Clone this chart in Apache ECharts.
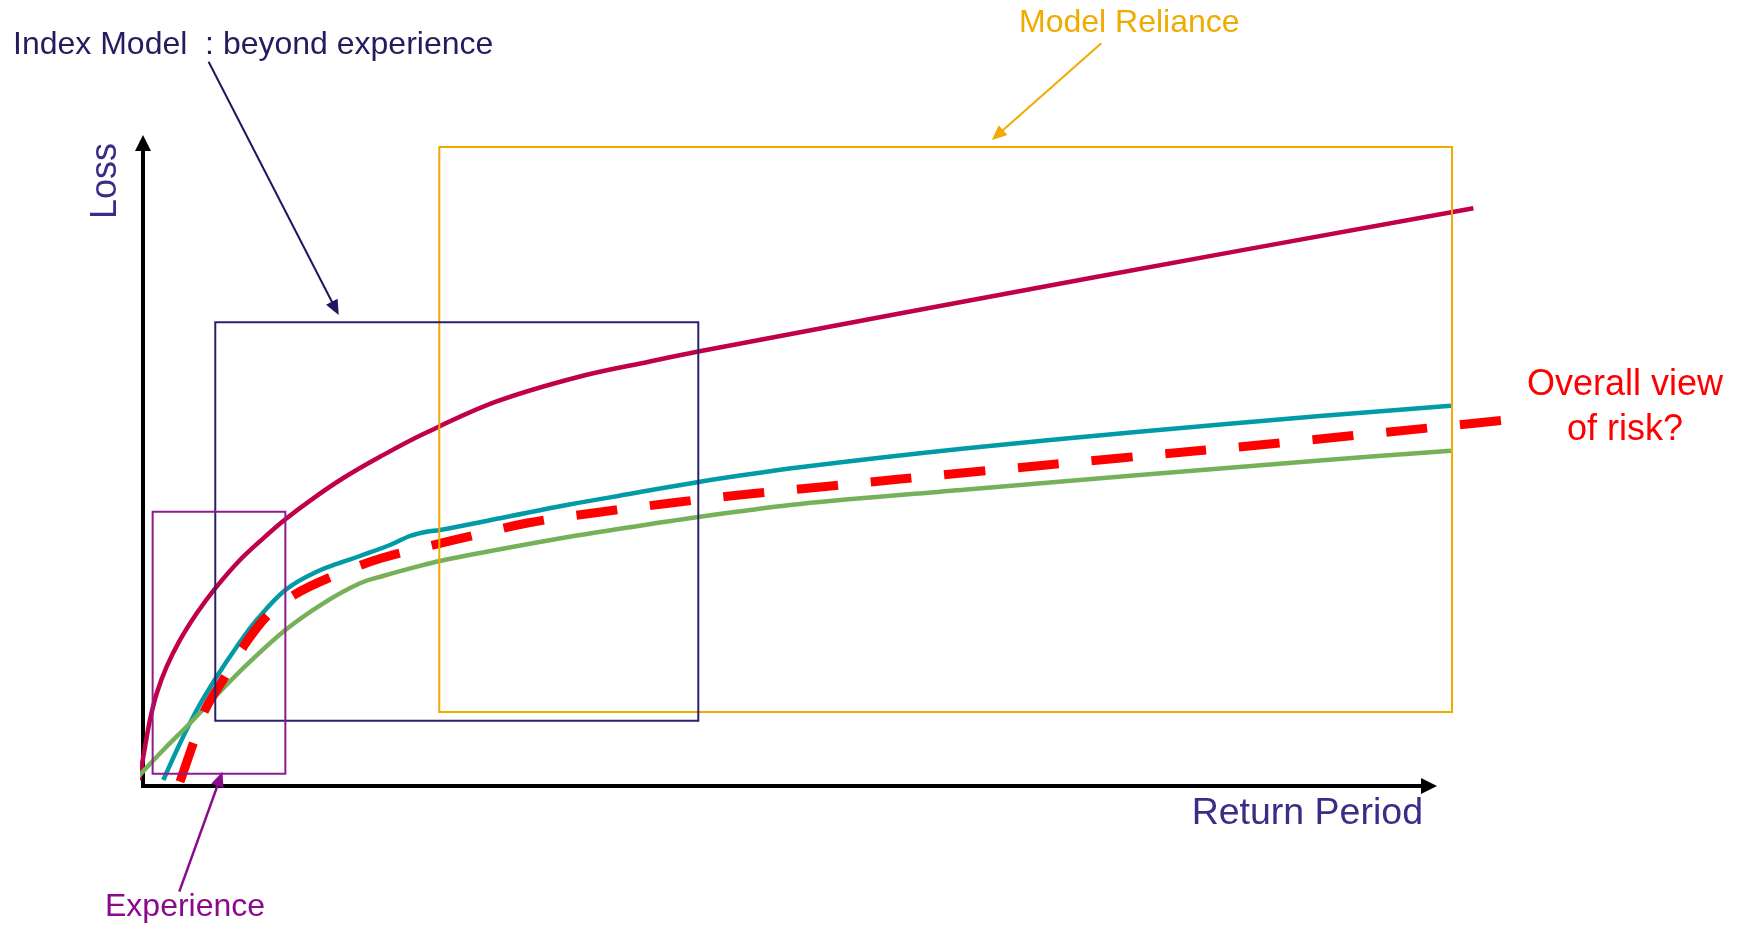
<!DOCTYPE html>
<html>
<head>
<meta charset="utf-8">
<script src="https://cdn.jsdelivr.net/npm/echarts@6/dist/echarts.min.js"></script>
<style>
  html, body { margin: 0; padding: 0; background: #ffffff; }
  #chart { width: 1737px; height: 926px; }
</style>
</head>
<body>
<div id="chart"></div>
<script>
// Loss against return period, both on a relative scale where the drawn
// axes run from 0 to 100. Each curve is a list of [returnPeriod, loss] pairs.
const upperCurve = [
  [-0.29, 0.93], [0.16, 6.11], [0.54, 10.26], [1.07, 14.42], [1.84, 18.55],
  [2.88, 22.71], [4.18, 26.86], [5.6, 30.7], [7.54, 35.15], [9.35, 38.52],
  [11.07, 41.48], [13.24, 44.74], [15.58, 47.9], [18.43, 51.2], [21.8, 54.74],
  [27.5, 59.8], [33.98, 63.69], [39.42, 66.02], [43.18, 67.57], [73.25, 78.85],
  [103.45, 89.86]
];
const middleCurve = [
  [1.58, 0.93], [2.88, 6.64], [4.18, 11.82], [5.73, 17.0], [7.29, 21.66],
  [8.84, 25.82], [11.07, 30.48], [13.51, 33.33], [16.87, 35.77], [19.21, 37.48],
  [20.76, 38.88], [22.06, 39.55], [23.09, 39.81], [27.76, 41.63], [32.95, 43.7],
  [38.13, 45.52], [43.31, 47.33], [51.09, 49.56], [64.05, 52.52], [77.01, 55.01],
  [91.52, 57.54], [101.71, 59.14]
];
const lowerCurve = [
  [-0.62, 0.93], [1.58, 5.6], [3.65, 9.75], [5.73, 14.15], [8.32, 19.33],
  [11.07, 24.26], [14.02, 28.41], [16.87, 31.52], [18.66, 32.66], [21.31, 34.11],
  [23.09, 34.99], [27.76, 36.81], [32.95, 38.68], [38.13, 40.33], [43.31, 41.88],
  [51.09, 43.86], [64.05, 46.11], [77.01, 48.29], [91.52, 50.62], [101.71, 52.15]
];
const overallView = [
  [2.88, 0.67], [3.91, 6.64], [4.82, 11.82], [6.38, 17.0], [7.8, 21.66],
  [9.62, 26.4], [11.82, 29.8], [14.67, 32.55], [18.58, 35.46], [24.22, 38.26],
  [29.9, 40.9], [35.61, 42.61], [41.37, 44.09], [47.12, 45.41], [52.9, 46.55],
  [64.49, 48.83], [76.03, 51.01], [87.58, 53.19], [106.56, 57.03]
];

// Ranges covered by each source of information: [x0, x1] and [y0, y1]
const experienceRange = { x: [0.75, 11.07], y: [1.9, 42.66] };
const indexModelRange = { x: [5.62, 43.18], y: [10.16, 72.12] };
const modelRelianceRange = { x: [23.04, 101.79], y: [11.51, 99.38] };

// Drawn axes end at 100; the curves run a little past the arrow heads,
// so they sit on a second, hidden grid with the same scale but a wider span.
const AXIS_MAX = 100;
const DATA_MAX = 108;

const FONT = '"Liberation Sans", Arial, Helvetica, sans-serif';
const PLOT_LEFT = 143, PLOT_TOP = 143, PLOT_BOTTOM = 140, AXIS_RIGHT = 308;
const CHART_W = 1737;
const axisSpan = CHART_W - PLOT_LEFT - AXIS_RIGHT;
const dataRight = CHART_W - PLOT_LEFT - axisSpan * DATA_MAX / AXIS_MAX;

const chart = echarts.init(document.getElementById('chart'), null, { renderer: 'canvas' });

const visibleAxis = (gridIndex) => ({
  type: 'value',
  gridIndex: gridIndex,
  min: 0,
  max: AXIS_MAX,
  axisLine: {
    show: true,
    onZero: false,
    symbol: ['none', 'triangle'],
    symbolSize: [16, 16],
    lineStyle: { color: '#000000', width: 4, cap: 'square' }
  },
  axisTick: { show: false },
  axisLabel: { show: false },
  splitLine: { show: false }
});
const hiddenAxis = (gridIndex, max) => ({
  type: 'value', gridIndex: gridIndex, min: 0, max: max, show: false,
  axisLine: { show: false }, axisTick: { show: false },
  axisLabel: { show: false }, splitLine: { show: false }
});

function curve(name, data, color, width, type) {
  return {
    name: name,
    type: 'line',
    xAxisIndex: 1,
    yAxisIndex: 1,
    data: data,
    symbol: 'none',
    showSymbol: false,
    smooth: 0.35,
    clip: false,
    silent: true,
    lineStyle: { color: color, width: width, type: type || 'solid', cap: 'butt', join: 'round' },
    z: 3
  };
}

chart.setOption({
  animation: false,
  backgroundColor: '#ffffff',
  grid: [
    { left: PLOT_LEFT, right: AXIS_RIGHT, top: PLOT_TOP, bottom: PLOT_BOTTOM, containLabel: false, outerBoundsMode: 'none' },
    { left: PLOT_LEFT, right: dataRight, top: PLOT_TOP, bottom: PLOT_BOTTOM, containLabel: false, outerBoundsMode: 'none' }
  ],
  xAxis: [visibleAxis(0), hiddenAxis(1, DATA_MAX)],
  yAxis: [visibleAxis(0), hiddenAxis(1, AXIS_MAX)],
  series: [
    curve('Upper view', upperCurve, '#C1004A', 4.5),
    curve('Central view', middleCurve, '#009BA6', 4.5),
    curve('Lower view', lowerCurve, '#76B15A', 4.5),
    Object.assign(curve('Overall view', overallView, '#FF0000', 9, [41, 33]), { z: 4 })
  ]
});

// Annotation layer: range boxes in data units, labels and arrows in pixels
const toPx = p => chart.convertToPixel({ gridIndex: 1 }, p);

function rangeBox(range, color) {
  const a = toPx([range.x[0], range.y[1]]);
  const b = toPx([range.x[1], range.y[0]]);
  return {
    type: 'rect', silent: true, z: 20,
    shape: { x: a[0], y: a[1], width: b[0] - a[0], height: b[1] - a[1] },
    style: { fill: 'none', stroke: color, lineWidth: 2 }
  };
}

function arrow(from, to, color, width, headLen, headW) {
  const dx = to[0] - from[0], dy = to[1] - from[1];
  const len = Math.hypot(dx, dy);
  const ux = dx / len, uy = dy / len;
  const bx = to[0] - ux * headLen, by = to[1] - uy * headLen;
  const nx = -uy * headW / 2, ny = ux * headW / 2;
  return [
    { type: 'line', silent: true, z: 21,
      shape: { x1: from[0], y1: from[1], x2: bx + ux, y2: by + uy },
      style: { stroke: color, lineWidth: width } },
    { type: 'polygon', silent: true, z: 21,
      shape: { points: [[to[0], to[1]], [bx + nx, by + ny], [bx - nx, by - ny]] },
      style: { fill: color } }
  ];
}

function label(text, x, y, size, color, align, extra) {
  return Object.assign({
    type: 'text', silent: true, z: 22, x: x, y: y,
    style: {
      text: text, fill: color, fontSize: size, fontFamily: FONT,
      align: align, verticalAlign: 'middle'
    }
  }, extra || {});
}

const elements = [
  rangeBox(modelRelianceRange, '#F0AA00'),
  rangeBox(indexModelRange, '#2A206E'),
  rangeBox(experienceRange, '#8E1C8E'),
  ...arrow([208.6, 61.7], [338.7, 315], '#1F1660', 2, 15, 13),
  ...arrow([1101.3, 43.3], [991.8, 140], '#F0AA00', 2, 15, 13),
  ...arrow([179.3, 891.7], [222.5, 771.7], '#8B0A8B', 2.5, 15, 13),
  label('Index Model  : beyond experience', 13, 45, 32, '#231C5E', 'left'),
  label('Model Reliance', 1019, 23, 32, '#F0AA00', 'left'),
  label('Experience', 105, 907.5, 32, '#8B0A8B', 'left'),
  label('Loss', 106, 181, 36, '#3A2C87', 'center', { rotation: Math.PI / 2 }),
  label('Return Period', 1423, 813.5, 37.5, '#3A2C87', 'right'),
  {
    type: 'text', silent: true, z: 22, x: 1625, y: 407.5,
    style: {
      text: 'Overall view\nof risk?', fill: '#FF0000', fontSize: 36, fontFamily: FONT,
      align: 'center', verticalAlign: 'middle', lineHeight: 45
    }
  }
];

chart.setOption({ graphic: { elements: elements } });
</script>
</body>
</html>
